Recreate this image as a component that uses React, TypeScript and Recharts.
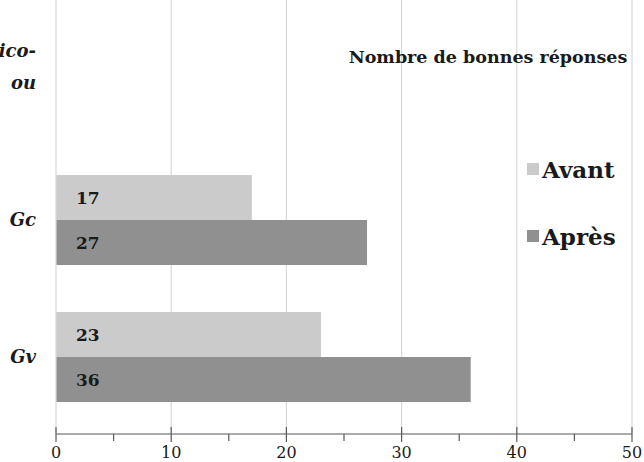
import React from "react";
import { BarChart, Bar, XAxis, YAxis, CartesianGrid, Legend, LabelList } from "recharts";

const categories = ["ico-|ou", "Gc", "Gv"];
const avant: (number | null)[] = [null, 17, 23];
const apres: (number | null)[] = [null, 27, 36];
const axisTicks = [0, 5, 10, 15, 20, 25, 30, 35, 40, 45, 50];
const gridValues = [10, 20, 30, 40, 50];
const title = "Nombre de bonnes réponses";
const seriesNames = ["Avant", "Après"];
const seriesColors = ["#cbcbcb", "#909090"];

const data = categories.map((c, i) => ({ name: c, avant: avant[i], apres: apres[i] }));

const FONT = "'DejaVu Serif', serif";

const XTick = (props: any) => {
  const { x, y, payload } = props;
  const v = payload.value as number;
  const major = v % 10 === 0;
  return (
    <g>
      {major ? (
        <line x1={x} x2={x} y1={y - 7} y2={y + 8} stroke="#595959" strokeWidth={1.2} />
      ) : (
        <line x1={x} x2={x} y1={y} y2={y + 7} stroke="#595959" strokeWidth={1.2} />
      )}
      {major && (
        <text x={x} y={y + 18} textAnchor="middle" dominantBaseline="central" fontFamily={FONT} fontSize={16} fill="#1a1a1a">
          {v}
        </text>
      )}
    </g>
  );
};

const YTick = (props: any) => {
  const { x, y, payload } = props;
  const lines = String(payload.value).split("|");
  const n = lines.length;
  return (
    <g>
      {lines.map((l, i) => (
        <text key={i} x={x - 12} y={y + (i - (n - 1)) * 32} textAnchor="end" dominantBaseline="central"
          fontFamily={FONT} fontSize={18} fontWeight="bold" fontStyle="italic" fill="#1a1a1a">
          {l}
        </text>
      ))}
    </g>
  );
};

const LegendContent = (props: any) => {
  const payload = [...(props.payload || [])].sort(
    (a: any, b: any) => seriesNames.indexOf(a.value) - seriesNames.indexOf(b.value)
  );
  return (
    <div style={{ position: "relative", width: 644, height: 462, fontFamily: FONT, color: "#1a1a1a" }}>
      <div style={{ position: "absolute", left: 338, width: 300, top: 46, textAlign: "center", fontSize: 17.5, fontWeight: "bold", whiteSpace: "nowrap", lineHeight: "22px" }}>
        {title}
      </div>
      {payload.map((p: any, i: number) => (
        <div key={i} style={{ position: "absolute", left: 527, top: 153 + i * 67, height: 32, display: "flex", alignItems: "center", whiteSpace: "nowrap" }}>
          <span style={{ display: "inline-block", width: 12, height: 12, background: p.color, marginRight: 3 }} />
          <span style={{ fontSize: 23, fontWeight: "bold" }}>{p.value}</span>
        </div>
      ))}
    </div>
  );
};

export default function App() {
  return (
    <div style={{ position: "absolute", left: 0, top: 0, width: 644, height: 462, background: "#fff" }}>
      <BarChart width={644} height={462} data={data} layout="vertical" margin={{ top: 0, right: 12, bottom: 0, left: 0 }} barGap={0} barSize={45}>
        <CartesianGrid horizontal={false} stroke="#d9d9d9" strokeWidth={1.2}
          verticalCoordinatesGenerator={(args: any) => {
            const { xAxis, offset } = args;
            return gridValues.map((v) =>
              xAxis && typeof xAxis.scale === "function" ? xAxis.scale(v) : offset.left + (v / 50) * offset.width
            );
          }} />
        <XAxis type="number" domain={[0, 50]} ticks={axisTicks} interval={0} height={28} tickSize={0} tickMargin={0}
          axisLine={{ stroke: "#595959", strokeWidth: 1.2 }} tickLine={false} tick={<XTick />} />
        <YAxis type="category" dataKey="name" width={56} padding={{ top: 14, bottom: 9 }} tickLine={false}
          axisLine={{ stroke: "#d9d9d9", strokeWidth: 1.2 }} tick={<YTick />} />
        <Legend layout="horizontal" verticalAlign="middle" align="center" content={<LegendContent />}
          wrapperStyle={{ position: "absolute", left: 0, top: 0, width: 644, height: 462 }} />
        <Bar dataKey="avant" name={seriesNames[0]} fill={seriesColors[0]} isAnimationActive={false}>
          <LabelList dataKey="avant" position="insideLeft" offset={20} fontFamily={FONT} fontSize={17} fontWeight="bold" fill="#1a1a1a" />
        </Bar>
        <Bar dataKey="apres" name={seriesNames[1]} fill={seriesColors[1]} isAnimationActive={false}>
          <LabelList dataKey="apres" position="insideLeft" offset={20} fontFamily={FONT} fontSize={17} fontWeight="bold" fill="#1a1a1a" />
        </Bar>
      </BarChart>
    </div>
  );
}
